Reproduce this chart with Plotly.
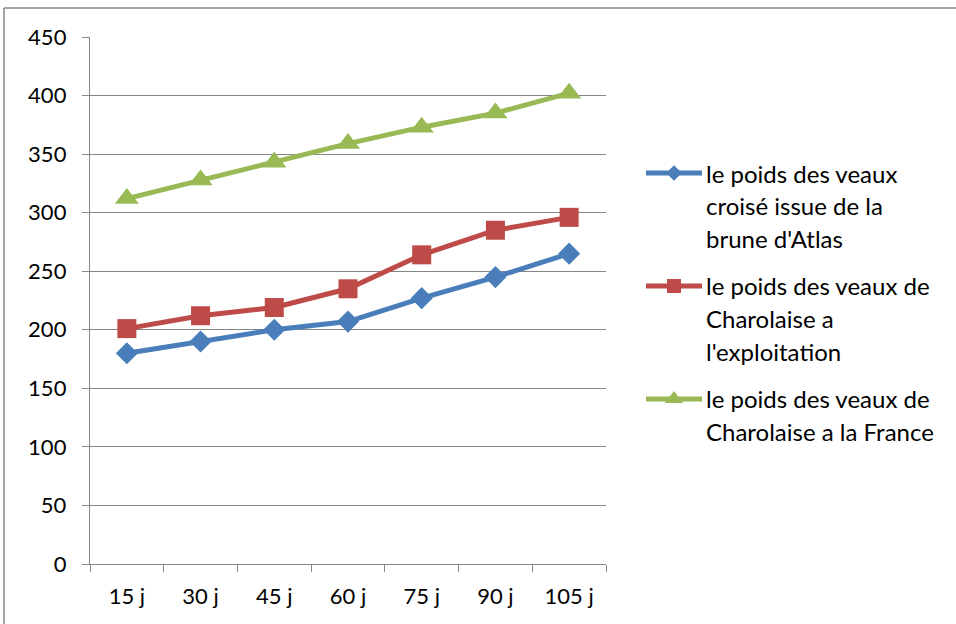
import plotly.graph_objects as go

# Poids des veaux (kg) selon l'âge
ages = ["15 j", "30 j", "45 j", "60 j", "75 j", "90 j", "105 j"]
croise_atlas = [180, 190, 200, 207, 227, 245, 265]
charolaise_exploitation = [201, 212, 219, 235, 264, 285, 296]
charolaise_france = [312, 328, 343, 359, 373, 385, 402]

series_names = [
    ["le poids des veaux", "croisé issue de la", "brune d'Atlas"],
    ["le poids des veaux de", "Charolaise a", "l'exploitation"],
    ["le poids des veaux de", "Charolaise a la France"],
]
y_ticks = list(range(0, 451, 50))

W, H = 956, 624
FONT = "Lato"
GRID = "#868686"
colors = ["#4A7EBB", "#BE4B48", "#98B954"]
symbols = ["diamond", "square", "triangle-up"]
marker_sizes = [17, 19, 21]
key_marker_sizes = [12, 14, 16]

# plot area in pixels
px_l, px_r, px_t, px_b = 90, 606, 37, 564


def fx(px):
    return px / W


def fy(py):
    return 1 - py / H


fig = go.Figure()

for vals, name, col, sym, ms in zip(
    [croise_atlas, charolaise_exploitation, charolaise_france],
    series_names, colors, symbols, marker_sizes,
):
    fig.add_trace(go.Scatter(
        x=ages, y=vals, mode="lines+markers", name=" ".join(name),
        line=dict(color=col, width=5),
        marker=dict(symbol=sym, size=ms, color=col, line=dict(width=0)),
        showlegend=False, cliponaxis=False,
    ))

# legend keys and labels, positioned in figure pixels
legend_rows = [173, 286, 399]
line_gap = 32.5
shapes = []
annotations = []
for row, name, col, sym, ks in zip(legend_rows, series_names, colors, symbols, key_marker_sizes):
    shapes.append(dict(type="line", xref="paper", yref="paper",
                       x0=fx(646), x1=fx(702), y0=fy(row), y1=fy(row),
                       line=dict(color=col, width=5), layer="below"))
    fig.add_trace(go.Scatter(
        x=[fx(674)], y=[fy(row)], xaxis="x2", yaxis="y2", mode="markers",
        marker=dict(symbol=sym, size=ks, color=col, line=dict(width=0)),
        showlegend=False, hoverinfo="skip", cliponaxis=False,
    ))
    for i, txt in enumerate(name):
        annotations.append(dict(
            x=fx(704), y=fy(row + i * line_gap), xref="paper", yref="paper", text=txt,
            showarrow=False, xanchor="left", yanchor="middle",
            font=dict(family=FONT, size=24, color="#000000"),
        ))

# outer chart-area border (top and left edges visible)
shapes.append(dict(type="line", xref="paper", yref="paper", x0=fx(4), x1=1.01, y0=fy(8), y1=fy(8),
                   line=dict(color="#878787", width=1.5)))
shapes.append(dict(type="line", xref="paper", yref="paper", x0=fx(4), x1=fx(4), y0=fy(8), y1=-0.01,
                   line=dict(color="#878787", width=1.5)))

fig.update_layout(
    width=W, height=H, autosize=False,
    margin=dict(l=0, r=0, t=0, b=0, pad=0, autoexpand=False),
    paper_bgcolor="white", plot_bgcolor="rgba(0,0,0,0)",
    font=dict(family=FONT, size=22, color="#000000"),
    shapes=shapes, annotations=annotations,
    xaxis=dict(
        domain=[fx(px_l), fx(px_r)], type="category", range=[-0.5, 6.5],
        showgrid=False, showline=True, linecolor=GRID, linewidth=1.4,
        ticks="outside", tickson="boundaries", ticklen=7, tickcolor=GRID, tickwidth=1.4,
        ticklabelstandoff=12, tickfont=dict(size=22),
        zeroline=False, fixedrange=True, automargin=False,
    ),
    yaxis=dict(
        domain=[fy(px_b), fy(px_t)], range=[0, 450], tickvals=y_ticks,
        showgrid=True, gridcolor=GRID, gridwidth=1.4,
        showline=True, linecolor=GRID, linewidth=1.4,
        ticks="outside", ticklen=7, tickcolor=GRID, tickwidth=1.4,
        ticklabelstandoff=11, tickfont=dict(size=22),
        zeroline=False, fixedrange=True, automargin=False,
    ),
    xaxis2=dict(domain=[0, 1], range=[0, 1], visible=False, fixedrange=True, anchor="y2"),
    yaxis2=dict(domain=[0, 1], range=[0, 1], visible=False, fixedrange=True, anchor="x2"),
)

fig.write_html("out.html")
